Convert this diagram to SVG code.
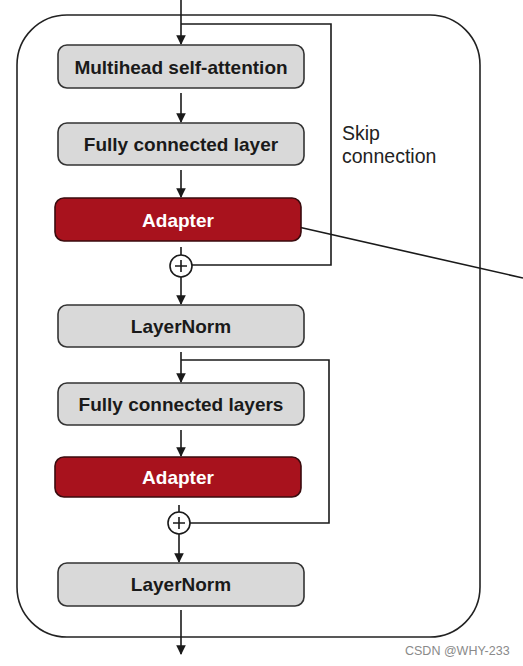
<svg xmlns="http://www.w3.org/2000/svg" width="523" height="666" viewBox="0 0 523 666">
<style>
.frame{fill:none;stroke:#222;stroke-width:1.6}
.box{fill:#d9d9d9;stroke:#333;stroke-width:1.6}
.adapter{fill:#a8121d;stroke:#3a0b0e;stroke-width:1.6}
.lbl{font-family:"Liberation Sans",Arial,sans-serif;font-weight:bold;font-size:19px;fill:#1a1a1a;text-anchor:middle}
.albl{font-family:"Liberation Sans",Arial,sans-serif;font-weight:bold;font-size:19px;fill:#fff;text-anchor:middle}
.note{font-family:"Liberation Sans",Arial,sans-serif;font-size:19.5px;fill:#222}
.ln{fill:none;stroke:#1a1a1a;stroke-width:1.6}
.arr{fill:none;stroke:#1a1a1a;stroke-width:1.6;marker-end:url(#ah)}
.plus{fill:#fff;stroke:#1a1a1a;stroke-width:1.6}
</style>
<defs>
<marker id="ah" viewBox="0 0 10 10" refX="9" refY="5" markerWidth="6" markerHeight="6" orient="auto" markerUnits="strokeWidth">
<path d="M0,0 L10,5 L0,10 z" fill="#1a1a1a"/>
</marker>
</defs>
<rect width="523" height="666" fill="#fff"/>
<rect class="frame" x="17" y="15" width="463" height="622" rx="50" ry="50"/>

<g id="connectors">
<line class="arr" x1="181" y1="0" x2="181" y2="44"/>
<polyline class="ln" points="181,24 331,24 331,265 192,265"/>
<line class="arr" x1="181" y1="93" x2="181" y2="122"/>
<line class="arr" x1="181" y1="170" x2="181" y2="197"/>
<line class="ln" x1="181" y1="247" x2="181" y2="255"/>
<line class="arr" x1="181" y1="277" x2="181" y2="304"/>
<line class="arr" x1="181" y1="352" x2="181" y2="382"/>
<polyline class="ln" points="181,360 329,360 329,523 190,523"/>
<line class="arr" x1="181" y1="430" x2="181" y2="456"/>
<line class="ln" x1="179" y1="505" x2="179" y2="512"/>
<line class="arr" x1="179" y1="534" x2="179" y2="562"/>
<line class="arr" x1="181" y1="610" x2="181" y2="654"/>
<line class="ln" x1="294" y1="226" x2="523" y2="278"/>
</g>

<g id="mhsa">
<rect class="box" x="58" y="45" width="246" height="43" rx="9"/>
<text class="lbl" x="181" y="74">Multihead self-attention</text>
</g>
<g id="fc1">
<rect class="box" x="58" y="123" width="246" height="42" rx="9"/>
<text class="lbl" x="181" y="151">Fully connected layer</text>
</g>
<g id="adapter1">
<rect class="adapter" x="55" y="198" width="246" height="43" rx="9"/>
<text class="albl" x="178" y="227">Adapter</text>
</g>
<g id="plus1">
<circle class="plus" cx="181" cy="266" r="11"/>
<path class="ln" d="M175,266 H187 M181,260 V272"/>
</g>
<g id="ln1">
<rect class="box" x="58" y="305" width="246" height="42" rx="9"/>
<text class="lbl" x="181" y="333">LayerNorm</text>
</g>
<g id="fc2">
<rect class="box" x="58" y="383" width="246" height="42" rx="9"/>
<text class="lbl" x="181" y="411">Fully connected layers</text>
</g>
<g id="adapter2">
<rect class="adapter" x="55" y="457" width="246" height="40" rx="9"/>
<text class="albl" x="178" y="484">Adapter</text>
</g>
<g id="plus2">
<circle class="plus" cx="179" cy="523" r="11"/>
<path class="ln" d="M173,523 H185 M179,517 V529"/>
</g>
<g id="ln2">
<rect class="box" x="58" y="563" width="246" height="43" rx="9"/>
<text class="lbl" x="181" y="591">LayerNorm</text>
</g>
<g id="skiplabel">
<text class="note" x="342" y="140">Skip</text>
<text class="note" x="342" y="163">connection</text>
</g>
<text x="405" y="655" font-family="Liberation Sans,Arial,sans-serif" font-size="12.5" fill="#8a8a8a">CSDN @WHY-233</text>
</svg>
